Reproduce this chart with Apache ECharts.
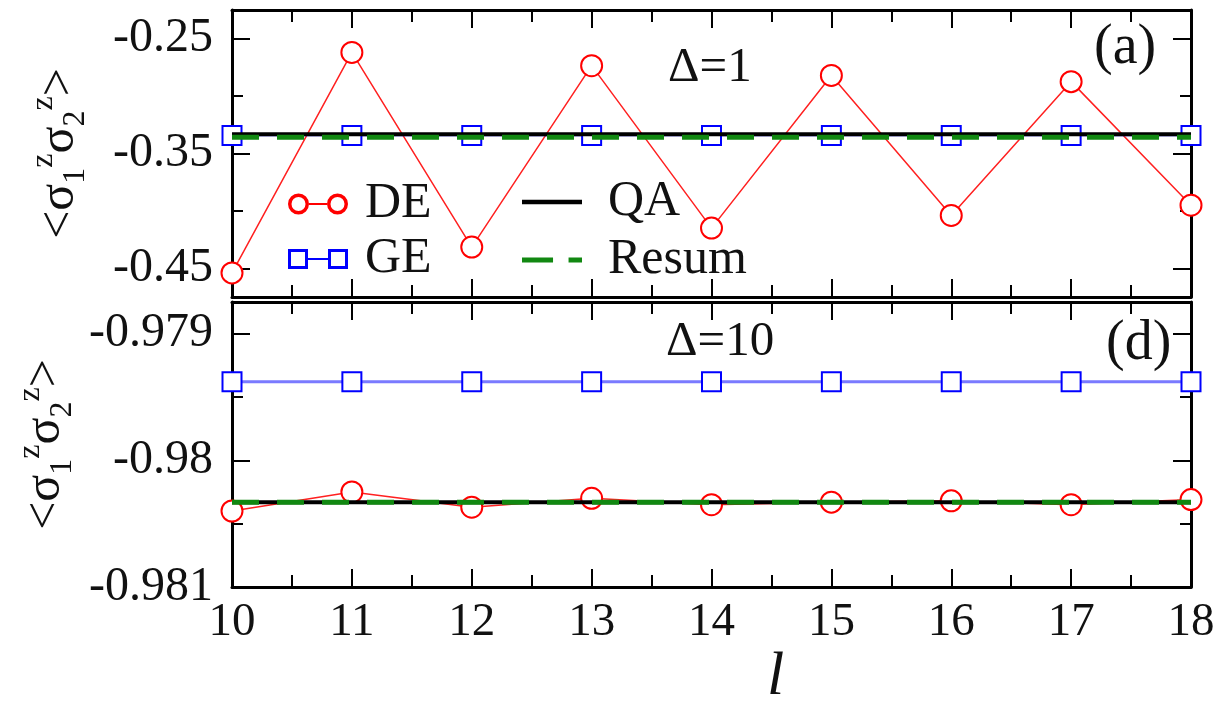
<!DOCTYPE html>
<html>
<head>
<meta charset="utf-8">
<script src="https://cdn.jsdelivr.net/npm/echarts@6/dist/echarts.min.js"></script>
<style>html,body{margin:0;padding:0;background:#fff}#c{width:1225px;height:706px}</style>
</head>
<body>
<div id="c"></div>
<script>
// ---- data ----
const ls = [10, 11, 12, 13, 14, 15, 16, 17, 18];
const deTop = [-0.454, -0.262, -0.4315, -0.2735, -0.415, -0.282, -0.404, -0.2874, -0.395];
const geTop = [-0.3343, -0.3343, -0.3343, -0.3343, -0.3343, -0.3343, -0.3343, -0.3343, -0.3343];
const qaTop = [-0.3333, -0.3333, -0.3333, -0.3333, -0.3333, -0.3333, -0.3333, -0.3333, -0.3333];
const resumTop = [-0.3358, -0.3358, -0.3358, -0.3358, -0.3358, -0.3358, -0.3358, -0.3358, -0.3358];
const deBottom = [-0.98040, -0.98025, -0.98037, -0.98030, -0.98035, -0.98033, -0.98032, -0.98035, -0.98031];
const geBottom = [-0.97938, -0.97938, -0.97938, -0.97938, -0.97938, -0.97938, -0.97938, -0.97938, -0.97938];
const qaBottom = [-0.98033, -0.98033, -0.98033, -0.98033, -0.98033, -0.98033, -0.98033, -0.98033, -0.98033];
const resumBottom = [-0.98033, -0.98033, -0.98033, -0.98033, -0.98033, -0.98033, -0.98033, -0.98033, -0.98033];
const yMajorTop = [-0.45, -0.35, -0.25];
const yMinorTop = [-0.4, -0.3];
const xTickLabels = ['10', '11', '12', '13', '14', '15', '16', '17', '18'];

const pairs = (ys) => ls.map((l, i) => [l, ys[i]]);
const FONT = 'serif';
const BLACK = '#000';
const TXT = '#111';

const yName = '{m|<σ}{sub|1}{sup|z}{m|σ}{sub|2}{sup|z}{m|>}';
const yRich = {
  m: {fontFamily: FONT, fontSize: 50, lineHeight: 64, color: TXT},
  sub: {fontFamily: FONT, fontSize: 32, lineHeight: 30, verticalAlign: 'bottom', color: TXT},
  sup: {fontFamily: FONT, fontSize: 32, lineHeight: 30, verticalAlign: 'top', color: TXT}
};

function xAx(grid, pos, labels, name) {
  return {
    type: 'value', gridIndex: grid, position: pos, min: 10, max: 18, interval: 1,
    axisLine: {show: true, onZero: false, lineStyle: {color: BLACK, width: 3}},
    axisTick: {show: true, inside: true, length: 18, lineStyle: {color: BLACK, width: 2}},
    minorTick: {show: true, splitNumber: 2, length: 12, lineStyle: {color: BLACK, width: 2}},
    splitLine: {show: false},
    axisLabel: {show: labels, margin: 12, fontFamily: FONT, fontSize: 47, color: TXT,
      formatter: (v) => xTickLabels[ls.indexOf(v)] || ''},
    name: name || '', nameLocation: 'middle', nameGap: 58,
    nameTextStyle: {fontFamily: FONT, fontSize: 62, lineHeight: 58, fontStyle: 'italic', color: TXT, padding: [0, 0, 0, 128]}
  };
}
function yAxTopMajor(pos, labels) {
  return {
    type: 'value', gridIndex: 0, position: pos, min: -0.475, max: -0.225,
    axisLine: {show: true, onZero: false, lineStyle: {color: BLACK, width: 3}},
    axisTick: {show: true, inside: true, length: 18, customValues: yMajorTop, lineStyle: {color: BLACK, width: 2}},
    axisLabel: {show: labels, margin: 19, customValues: yMajorTop, fontFamily: FONT, fontSize: 48, color: TXT},
    splitLine: {show: false},
    name: labels ? yName : '', nameLocation: 'middle', nameGap: 140, nameRotate: 90,
    nameTextStyle: {rich: yRich}
  };
}
function yAxTopMinor(pos) {
  return {
    type: 'value', gridIndex: 0, position: pos, min: -0.475, max: -0.225,
    axisLine: {show: false},
    axisTick: {show: true, inside: true, length: 11, customValues: yMinorTop, lineStyle: {color: BLACK, width: 2}},
    axisLabel: {show: false}, splitLine: {show: false}
  };
}
function yAxBottom(pos, labels) {
  return {
    type: 'value', gridIndex: 1, position: pos, min: -0.981, max: -0.97875, interval: 0.001,
    axisLine: {show: true, onZero: false, lineStyle: {color: BLACK, width: 3}},
    axisTick: {show: true, inside: true, length: 18, lineStyle: {color: BLACK, width: 2}},
    minorTick: {show: true, splitNumber: 2, length: 11, lineStyle: {color: BLACK, width: 2}},
    axisLabel: {show: labels, margin: 19, fontFamily: FONT, fontSize: 48, color: TXT,
      formatter: (v) => String(Math.round(v * 1000) / 1000)},
    splitLine: {show: false},
    name: labels ? yName : '', nameLocation: 'middle', nameGap: 140, nameRotate: 90,
    nameTextStyle: {rich: yRich}
  };
}

// legend icons (drawn in a 60x22 box)
const ringIcon = 'path://M0,11 A10.5,10.5 0 1,1 21,11 A10.5,10.5 0 1,1 0,11 Z M3.5,11 A7,7 0 1,0 17.5,11 A7,7 0 1,0 3.5,11 Z ' +
  'M21,10 L39,10 L39,12 L21,12 Z ' +
  'M39,11 A10.5,10.5 0 1,1 60,11 A10.5,10.5 0 1,1 39,11 Z M42.5,11 A7,7 0 1,0 56.5,11 A7,7 0 1,0 42.5,11 Z';
const squareIcon = 'path://M0,1 L20,1 L20,21 L0,21 Z M3,4 L3,18 L17,18 L17,4 Z ' +
  'M20,10 L40,10 L40,12 L20,12 Z ' +
  'M40,1 L60,1 L60,21 L40,21 Z M43,4 L43,18 L57,18 L57,4 Z';
const solidIcon = 'path://M0,0 L58,0 L58,4.5 L0,4.5 Z';
const dashIcon = 'path://M0,0 L30,0 L30,5 L0,5 Z M45,0 L58,0 L58,5 L45,5 Z';

const chart = echarts.init(document.getElementById('c'));
const deStyle = {symbol: 'emptyCircle', symbolSize: 21, itemStyle: {color: '#ff0000', borderWidth: 3},
  lineStyle: {color: '#ff2020', width: 1.5}};
const geStyleTop = {symbol: 'emptyRect', symbolSize: 19, itemStyle: {color: '#0000ff', borderWidth: 3},
  lineStyle: {color: '#3030ff', width: 1.5}};
const geStyleBottom = {symbol: 'emptyRect', symbolSize: 19, itemStyle: {color: '#0000ff', borderWidth: 3},
  lineStyle: {color: '#7a7aff', width: 3}};
const qaStyle = {symbol: 'none', itemStyle: {color: '#000'}, lineStyle: {color: '#000', width: 4}};
const resumStyle = {symbol: 'none', itemStyle: {color: '#118811'}, lineStyle: {color: '#118811', width: 5, type: [27, 18]}};

const legendText = {fontFamily: FONT, fontSize: 50, color: TXT};
const option = {
  animation: false,
  backgroundColor: '#fff',
  textStyle: {fontFamily: FONT},
  grid: [
    {left: 232, right: 34, top: 10, height: 287, outerBoundsMode: 'none', containLabel: false},
    {left: 232, right: 34, top: 302, height: 285, outerBoundsMode: 'none', containLabel: false}
  ],
  xAxis: [xAx(0, 'bottom', false), xAx(0, 'top', false), xAx(1, 'bottom', true, 'l'), xAx(1, 'top', false)],
  yAxis: [yAxTopMajor('left', true), yAxTopMinor('left'), yAxTopMajor('right', false), yAxTopMinor('right'),
    yAxBottom('left', true), yAxBottom('right', false)],
  legend: [
    {data: [{name: 'DE', icon: ringIcon, itemStyle: {color: '#ff0000', borderWidth: 0}},
            {name: 'GE', icon: squareIcon, itemStyle: {color: '#0000ff', borderWidth: 0}}],
      orient: 'vertical', left: 283, top: 174, itemWidth: 60, itemHeight: 22, itemGap: 5,
      textStyle: Object.assign({padding: [0, 0, 0, 12]}, legendText), selectedMode: false},
    {data: [{name: 'QA', icon: solidIcon, itemStyle: {color: '#000', borderWidth: 0}},
            {name: 'Resum', icon: dashIcon, itemStyle: {color: '#118811', borderWidth: 0}}],
      orient: 'vertical', left: 517, top: 172, itemWidth: 60, itemHeight: 22, itemGap: 8,
      textStyle: Object.assign({padding: [0, 0, 0, 21]}, legendText), selectedMode: false}
  ],
  graphic: [
    {type: 'text', left: 668, top: 44, style: {text: 'Δ=1', fontFamily: FONT, fontSize: 49, fill: TXT}},
    {type: 'text', left: 1094, top: 20, style: {text: '(a)', fontFamily: FONT, fontSize: 56, fill: TXT}},
    {type: 'text', left: 666, top: 318, style: {text: 'Δ=10', fontFamily: FONT, fontSize: 49, fill: TXT}},
    {type: 'text', left: 1106, top: 316, style: {text: '(d)', fontFamily: FONT, fontSize: 56, fill: TXT}}
  ],
  series: [
    Object.assign({name: 'DE', type: 'line', xAxisIndex: 0, yAxisIndex: 0, data: pairs(deTop), z: 2}, deStyle),
    Object.assign({name: 'GE', type: 'line', xAxisIndex: 0, yAxisIndex: 0, data: pairs(geTop), z: 3}, geStyleTop),
    Object.assign({name: 'QA', type: 'line', xAxisIndex: 0, yAxisIndex: 0, data: pairs(qaTop), z: 4}, qaStyle),
    Object.assign({name: 'Resum', type: 'line', xAxisIndex: 0, yAxisIndex: 0, data: pairs(resumTop), z: 5}, resumStyle),
    Object.assign({name: 'DE', type: 'line', xAxisIndex: 2, yAxisIndex: 4, data: pairs(deBottom), z: 2}, deStyle),
    Object.assign({name: 'GE', type: 'line', xAxisIndex: 2, yAxisIndex: 4, data: pairs(geBottom), z: 3}, geStyleBottom),
    Object.assign({name: 'QA', type: 'line', xAxisIndex: 2, yAxisIndex: 4, data: pairs(qaBottom), z: 4}, qaStyle),
    Object.assign({name: 'Resum', type: 'line', xAxisIndex: 2, yAxisIndex: 4, data: pairs(resumBottom), z: 5}, resumStyle)
  ]
};

chart.setOption(option);
</script>
</body>
</html>
